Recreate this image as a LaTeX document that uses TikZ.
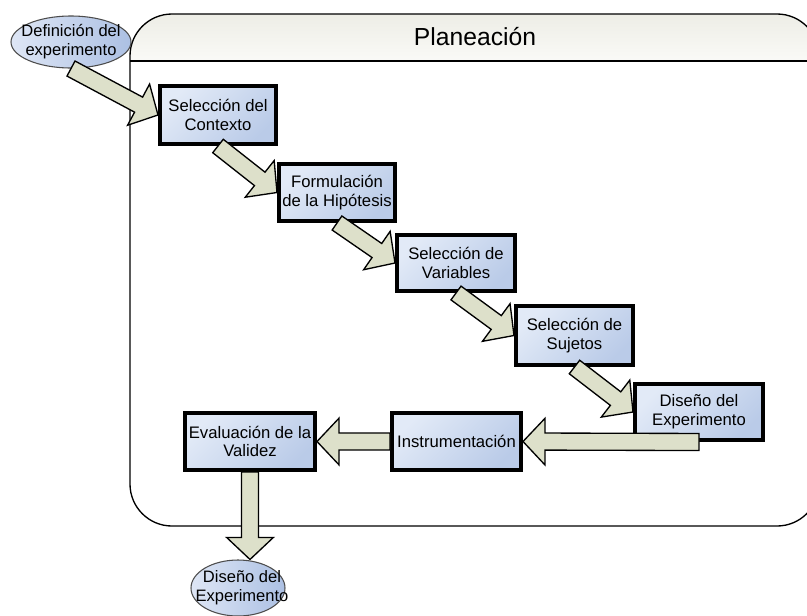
\documentclass[tikz,border=0pt]{standalone}
\usepackage{fontspec}
\setmainfont{Liberation Sans}
\usetikzlibrary{calc,shapes.geometric}

\definecolor{arrowfill}{RGB}{221,224,202}
\definecolor{boxlight}{RGB}{226,234,247}
\definecolor{boxdark}{RGB}{186,203,232}
\definecolor{elllight}{RGB}{222,230,245}
\definecolor{elldark}{RGB}{172,192,227}
\definecolor{headtop}{RGB}{237,237,230}
\definecolor{headbot}{RGB}{250,250,247}

% block arrow geometry
\newcommand{\shaftw}{6.4pt}
\newcommand{\headw}{17.5pt}
\newcommand{\headl}{16.5pt}

\tikzset{
  stepbox/.style={rectangle, draw=black, line width=3pt,
    top color=boxlight, bottom color=boxdark, shading angle=45,
    align=center, inner sep=0pt,
    font=\fontsize{12.5pt}{14pt}\selectfont},
  endell/.style={ellipse, draw=black!70, line width=0.8pt,
    left color=elllight, right color=elldark, inner sep=0pt},
  elltext/.style={align=center, inner sep=0pt,
    font=\fontsize{12.4pt}{14.2pt}\selectfont},
  blockarrow/.style={draw=black, line width=1pt, fill=arrowfill,
    line join=miter, miter limit=10,
    to path={
      ($(\tikztostart)!\shaftw!90:(\tikztotarget)$)
      -- ($($(\tikztotarget)!\headl!(\tikztostart)$)!\shaftw!90:(\tikztotarget)$)
      -- ($($(\tikztotarget)!\headl!(\tikztostart)$)!\headw!90:(\tikztotarget)$)
      -- (\tikztotarget)
      -- ($($(\tikztotarget)!\headl!(\tikztostart)$)!\headw!-90:(\tikztotarget)$)
      -- ($($(\tikztotarget)!\headl!(\tikztostart)$)!\shaftw!-90:(\tikztotarget)$)
      -- ($(\tikztostart)!\shaftw!-90:(\tikztotarget)$)
      -- cycle}},
}

\begin{document}
\begin{tikzpicture}[x=0.75pt, y=-0.75pt]
  \clip (0,0) rectangle (807,615);

  % planning frame
  \fill[white, rounded corners=31.5pt] (130,526) -- (130,14) -- (819,14) -- (819,526) -- cycle;
  \begin{scope}
    \clip[rounded corners=31.5pt] (130,526) -- (130,14) -- (819,14) -- (819,526) -- cycle;
    \fill[top color=headtop, bottom color=headbot] (120,14) rectangle (830,61);
  \end{scope}
  \draw[line width=1pt] (130,61) -- (819,61);
  \draw[line width=1pt, rounded corners=31.5pt] (130,526) -- (130,14) -- (819,14) -- (819,526) -- cycle;
  \node[font=\fontsize{18.5pt}{20pt}\selectfont] (title) at (475,37) {Planeación};

  % steps
  \node[stepbox, minimum width=116*0.75pt, minimum height=58*0.75pt] (ctx) at (218,115) {Selección del\\Contexto};
  \node[stepbox, minimum width=116*0.75pt, minimum height=57*0.75pt] (hip) at (337,192.5) {Formulación\\de la Hipótesis};
  \node[stepbox, minimum width=118*0.75pt, minimum height=56*0.75pt] (var) at (456,263) {Selección de\\Variables};
  \node[stepbox, minimum width=117*0.75pt, minimum height=59*0.75pt] (suj) at (574.5,335.5) {Selección de\\Sujetos};
  \node[stepbox, minimum width=128*0.75pt, minimum height=56*0.75pt] (dis) at (699,412) {Diseño del\\Experimento};
  \node[stepbox, minimum width=129*0.75pt, minimum height=57*0.75pt] (ins) at (456.5,441.5) {Instrumentación};
  \node[stepbox, minimum width=130*0.75pt, minimum height=57*0.75pt] (eva) at (250,441.5) {Evaluación de la\\Validez};

  % start and end
  \node[endell, minimum width=120*0.75pt, minimum height=52*0.75pt] (tell) at (71,42) {};
  \node[elltext] (telltext) at (tell.center) {Definición del\\experimento};
  \node[endell, minimum width=94*0.75pt, minimum height=56*0.75pt] (bell) at (238,588) {};
  \node[elltext] (belltext) at ([xshift=3pt]bell.center) {Diseño del\\Experimento};

  % flow
  \draw[blockarrow] (tell.south) to (ctx.west);
  \draw[blockarrow] (ctx.south) to (hip.west);
  \draw[blockarrow] (hip.south) to (var.west);
  \draw[blockarrow] (var.south) to (suj.west);
  \draw[blockarrow] (suj.south) to (dis.west);
  \draw[blockarrow] (dis.south) to (ins.east);
  \draw[blockarrow] (ins.west) to (eva.east);
  \draw[blockarrow] (eva.south) to (eva.south |- bell.north);
\end{tikzpicture}
\end{document}
